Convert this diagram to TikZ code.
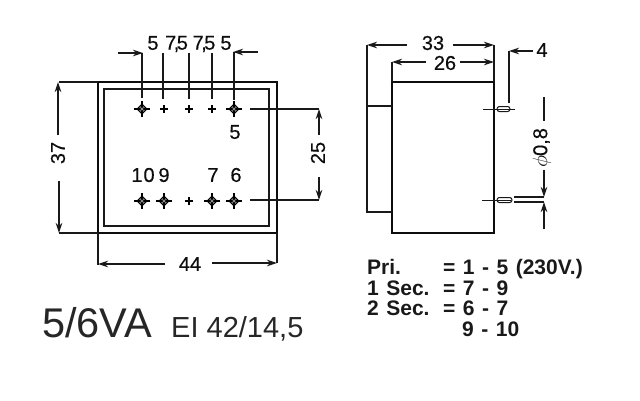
\documentclass[tikz,border=0pt]{standalone}
\usepackage{fontspec}
\setmainfont{Liberation Sans}
\newfontfamily\numfont[FakeBold=0.35]{Liberation Sans}
\usetikzlibrary{arrows.meta}
\newcommand{\rowfont}{\fontsize{21}{22}\selectfont\bfseries\spaceskip=7.5pt\relax}
\tikzset{
  dimline/.style={line width=1.1pt,black!90},
  dimarrow/.style={dimline,-{Stealth[length=10pt,width=6.5pt]}},
  heavy/.style={line width=1.8pt,black!95},
  thinbody/.style={line width=1.3pt,black!90},
  dimtext/.style={inner sep=0pt,font=\fontsize{20}{22}\selectfont\numfont,text=black!95},
  rowtext/.style={inner sep=0pt,anchor=base west,font=\rowfont,text=black!90},
  pinline/.style={line width=1pt,black!90},
}
\newcommand{\bigpin}[1]{%
  \draw[line width=0.9pt,fill=black!55] (#1)+(-5,0)--+(0,-5)--+(5,0)--+(0,5)--cycle;
  \draw[line width=1.1pt] (#1)+(-8,0)--+(8,0) (#1)+(0,-8)--+(0,8);
  \fill[white!55!black] (#1) circle (1.7);}
\newcommand{\smallpin}[1]{%
  \draw[line width=1.2pt] (#1)+(-4,0)--+(4,0) (#1)+(0,-4)--+(0,4);}
\newcommand{\sevenfive}{7\kern-2.5pt,\kern-2.5pt5}
\begin{document}
\begin{tikzpicture}[x=1pt,y=-1pt]
\useasboundingbox (0,0) rectangle (640,400);
% front view bodies
\draw[heavy] (98,82) rectangle (277,233);
\draw[thinbody] (104,89) rectangle (269,226);
% pin coordinates
\coordinate (p1) at (142,109); \coordinate (p2) at (164,109); \coordinate (p3) at (189,109);
\coordinate (p4) at (212,109); \coordinate (p5) at (234,109);
\coordinate (q1) at (142,201); \coordinate (q2) at (164,201); \coordinate (q3) at (189,201);
\coordinate (q4) at (212,201); \coordinate (q5) at (234,201);
\bigpin{p1}\smallpin{p2}\smallpin{p3}\smallpin{p4}\bigpin{p5}
\bigpin{q1}\bigpin{q2}\smallpin{q3}\bigpin{q4}\bigpin{q5}
% top dimensions
\draw[dimarrow] (118,53) -- (143,53);
\draw[dimline] (142,53) -- (142,98);
\draw[dimarrow] (258,52) -- (233,52);
\draw[dimline] (234,52) -- (234,100);
\draw[dimline] (163,53) -- (163,99);
\draw[dimline] (189,53) -- (189,99);
\draw[dimline] (212,53) -- (212,99);
\node[dimtext] (t5a) at (153,43) {5};
\node[dimtext] (t75a) at (176.5,44) {\sevenfive};
\node[dimtext] (t75b) at (204,44) {\sevenfive};
\node[dimtext] (t5b) at (226,43) {5};
% 37
\draw[dimline] (98,82) -- (59,82);
\draw[dimarrow] (58,135) -- (58,82);
\node[dimtext,rotate=90] (t37) at (58,153) {37};
\draw[dimarrow] (59,181) -- (59,233);
\draw[dimline] (59,233) -- (98,233);
% 25
\draw[dimline] (250,109) -- (319,109);
\draw[dimarrow] (319,135) -- (319,109);
\node[dimtext,rotate=90] (t25) at (318,153) {25};
\draw[dimline] (250,200) -- (319,200);
\draw[dimarrow] (319,177) -- (319,200);
% 44
\draw[dimline] (98,233) -- (98,265);
\draw[dimline] (277,233) -- (277,263);
\draw[dimarrow] (165,264) -- (98,264);
\draw[dimarrow] (212,263) -- (277,263);
\node[dimtext] (t44) at (190,264) {44};
% pin labels
\node[dimtext] (l5) at (235,132) {5};
\node[dimtext] (l10) at (143,175) {1\kern1pt 0};
\node[dimtext] (l9) at (164,175) {9};
\node[dimtext] (l7) at (213,175) {7};
\node[dimtext] (l6) at (236,175) {6};
% titles
\node[inner sep=0pt,anchor=base west,font=\fontsize{41.5}{42}\selectfont,text=black!85] (title) at (42,337) {5/6VA};
\node[inner sep=0pt,anchor=base west,font=\fontsize{29}{30}\selectfont,text=black!85] (sub) at (171,337) {EI 42/14,5};
% side view
\draw[heavy] (392,82) rectangle (494,233);
\draw[thinbody] (392,106) -- (367,106) -- (367,212) -- (392,212);
% 33
\draw[thinbody] (367,45) -- (367,106);
\draw[dimline] (494,45) -- (494,82);
\draw[dimarrow] (407,45) -- (367,45);
\draw[dimarrow] (453,45) -- (494,45);
\node[dimtext] (t33) at (433,43) {33};
% 26
\draw[dimline] (392,62) -- (392,82);
\draw[dimarrow] (426,62) -- (392,62);
\draw[dimarrow] (460,62) -- (494,62);
\node[dimtext] (t26) at (445,63) {26};
% 4
\draw[dimarrow] (533,51) -- (509,51);
\draw[dimline] (509,51) -- (509,103);
\node[dimtext] (t4) at (542,50) {4};
% side pins
\draw[pinline] (483,109) -- (515,109);
\draw[pinline,rounded corners=2.4pt] (497,106.5) rectangle (510,111.5);
\draw[pinline] (482,200) -- (511,200);
\draw[pinline,rounded corners=2.4pt] (497,197.5) rectangle (512,202.5);
% phi 0,8
\draw[dimline] (514,197) -- (544,197);
\draw[dimline] (514,202) -- (544,202);
\draw[dimline] (544,97) -- (544,121);
\draw[dimarrow] (544,170) -- (544,197);
\draw[dimarrow] (544,229) -- (544,202);
\node[dimtext,rotate=90] (tphi) at (542,148) {$\phi$0,8};
% table
\node[rowtext] (r1a) at (367,274) {Pri.};
\node[rowtext] (r1b) at (443,274) {= 1 - 5 (230V.)};
\node[rowtext] (r2a) at (367,295) {1 Sec.};
\node[rowtext] (r2b) at (443,295) {= 7 - 9};
\node[rowtext] (r3a) at (367,315) {2 Sec.};
\node[rowtext] (r3b) at (443,315) {= 6 - 7};
\node[rowtext] (r4b) at (462,336) {9 - 10};
\end{tikzpicture}
\end{document}
